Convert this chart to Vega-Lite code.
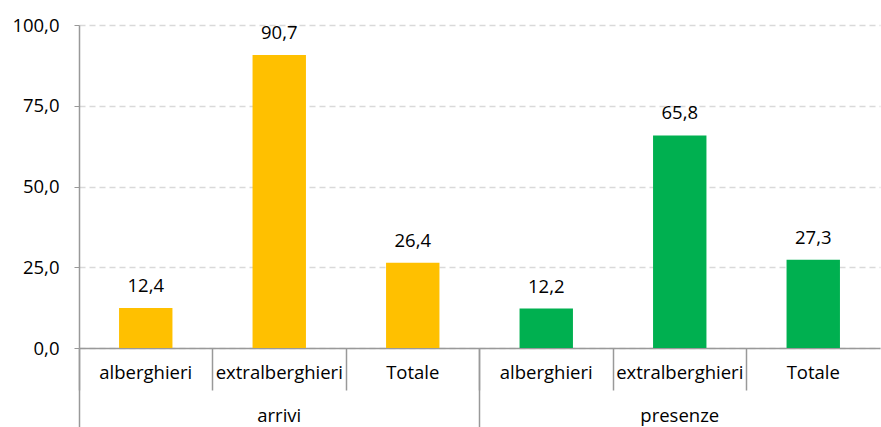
{
  "$schema": "https://vega.github.io/schema/vega-lite/v6.json",
  "width": 801,
  "height": 323,
  "autosize": "none",
  "padding": {"left": 79, "top": 25, "right": 1, "bottom": 79},
  "config": {
    "locale": {"number": {"decimal": ",", "thousands": ".", "grouping": [3], "currency": ["€", ""]}},
    "view": {"stroke": null},
    "font": "Open Sans",
    "axis": {"labelFont": "Open Sans", "labelFontSize": 18.5, "labelColor": "#000000", "titleFont": "Open Sans"},
    "text": {"font": "Open Sans"}
  },
  "layer": [
    {
      "data": {"values": [
        {"key": "arrivi|alberghieri", "group": "arrivi", "value": 12.4},
        {"key": "arrivi|extralberghieri", "group": "arrivi", "value": 90.7},
        {"key": "arrivi|Totale", "group": "arrivi", "value": 26.4},
        {"key": "presenze|alberghieri", "group": "presenze", "value": 12.2},
        {"key": "presenze|extralberghieri", "group": "presenze", "value": 65.8},
        {"key": "presenze|Totale", "group": "presenze", "value": 27.3}
      ]},
      "encoding": {
        "x": {
          "field": "key", "type": "nominal", "sort": null,
          "scale": {"type": "band", "paddingInner": 0, "paddingOuter": 0},
          "axis": {
            "title": null, "orient": "bottom", "bandPosition": 0,
            "tickSize": 42, "tickColor": "#999999", "tickWidth": 1.5,
            "domainColor": "#999999", "domainWidth": 1.5,
            "labelAngle": 0, "labelBaseline": "top", "labelPadding": -27,
            "labelFont": "Open Sans", "labelFontSize": 18.5,
            "labelExpr": "split(datum.label, '|')[1]"
          }
        },
        "y": {
          "field": "value", "type": "quantitative",
          "scale": {"domain": [0, 100], "nice": false},
          "axis": {
            "title": null, "values": [0, 25, 50, 75, 100], "format": ".1f",
            "tickSize": 5, "tickColor": "#999999", "domainColor": "#999999", "domainWidth": 1.5,
            "labelPadding": 15, "labelFont": "Open Sans", "labelFontSize": 18.5,
            "grid": true, "gridColor": "#d9d9d9", "gridDash": [6, 4], "gridWidth": 1.5
          }
        }
      },
      "layer": [
        {
          "mark": {"type": "bar", "width": {"band": 0.4}},
          "encoding": {
            "color": {
              "field": "group", "type": "nominal", "legend": null,
              "scale": {"domain": ["arrivi", "presenze"], "range": ["#FFC000", "#00B050"]}
            }
          }
        },
        {
          "mark": {"type": "text", "baseline": "bottom", "dy": -12, "fontSize": 18.5, "font": "Open Sans", "color": "#000000"},
          "encoding": {"text": {"field": "value", "type": "quantitative", "format": ".1f"}}
        }
      ]
    },
    {
      "data": {"values": [{"group": "arrivi"}, {"group": "presenze"}]},
      "mark": {"type": "text"},
      "encoding": {
        "x": {
          "field": "group", "type": "nominal", "sort": null,
          "scale": {"type": "band", "paddingInner": 0, "paddingOuter": 0},
          "axis": {
            "title": null, "orient": "bottom", "bandPosition": 0, "domain": false,
            "tickSize": 79, "tickColor": "#999999", "tickWidth": 1.5,
            "labelAngle": 0, "labelBaseline": "top", "labelPadding": -21,
            "labelFont": "Open Sans", "labelFontSize": 18.5
          }
        }
      }
    }
  ],
  "resolve": {"scale": {"x": "independent"}, "axis": {"x": "independent"}}
}
